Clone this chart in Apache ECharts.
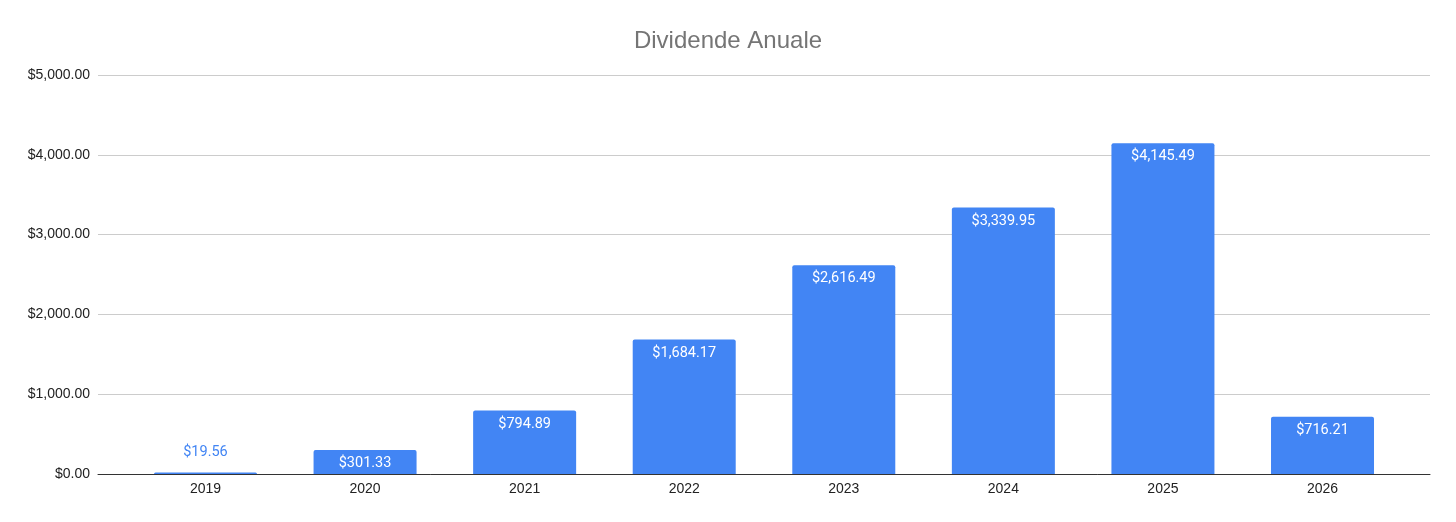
<!DOCTYPE html>
<html>
<head>
<meta charset="utf-8">
<script src="https://cdn.jsdelivr.net/npm/echarts@6/dist/echarts.min.js"></script>
<style>
html,body{margin:0;padding:0;background:#fff;}
#c{width:1456px;height:522px;}
</style>
</head>
<body>
<div id="c"></div>
<script>
const titleText = 'Dividende Anuale';
const categories = ['2019','2020','2021','2022','2023','2024','2025','2026'];
const values = [19.56, 301.33, 794.89, 1684.17, 2616.49, 3339.95, 4145.49, 716.21];
const yMin = 0, yMax = 5000, yStep = 1000;

function money(v){
  return '$' + Number(v).toLocaleString('en-US',{minimumFractionDigits:2,maximumFractionDigits:2});
}

const chart = echarts.init(document.getElementById('c'), null, {renderer:'canvas'});

const barData = values.map((v,i)=>{
  if (v < 200) {
    return {value:v, label:{position:'top', distance:13, color:'#4285f4'}};
  }
  return v;
});

chart.setOption({
  animation:false,
  backgroundColor:'#fff',
  title:{
    text:titleText, left:'center', top:24,
    textStyle:{fontFamily:'Liberation Sans, Arial, sans-serif', fontSize:24, fontWeight:'normal', color:'#757575'}
  },
  grid:[
    {left:98, right:26, top:75, bottom:48},
    {left:125.7, right:53.7, top:75, bottom:48}
  ],
  xAxis:[
    {type:'category', gridIndex:0, data:categories,
     axisLine:{show:true, lineStyle:{color:'#333', width:1}},
     axisTick:{show:false}, axisLabel:{show:false}, splitLine:{show:false}},
    {type:'category', gridIndex:1, data:categories,
     axisLine:{show:false}, axisTick:{show:false},
     axisLabel:{color:'#222', fontSize:14, fontFamily:'Liberation Sans, Arial, sans-serif', margin:8}}
  ],
  yAxis:[
    {type:'value', gridIndex:0, min:yMin, max:yMax, interval:yStep,
     axisLine:{show:false}, axisTick:{show:false},
     axisLabel:{color:'#222', fontSize:14, fontFamily:'Liberation Sans, Arial, sans-serif', margin:8, formatter:money},
     splitLine:{lineStyle:{color:'#cccccc', width:1}}},
    {type:'value', gridIndex:1, min:yMin, max:yMax, interval:yStep,
     axisLine:{show:false}, axisTick:{show:false}, axisLabel:{show:false}, splitLine:{show:false}}
  ],
  series:[{
    type:'bar', xAxisIndex:1, yAxisIndex:1, data:barData,
    barWidth:103,
    itemStyle:{color:'#4285f4', borderRadius:[2,2,0,0]},
    label:{show:true, position:'insideTop', distance:6, color:'#fff', fontSize:14.5,
      fontFamily:'Roboto, sans-serif', formatter:p=>money(p.value)}
  }]
});
</script>
</body>
</html>
